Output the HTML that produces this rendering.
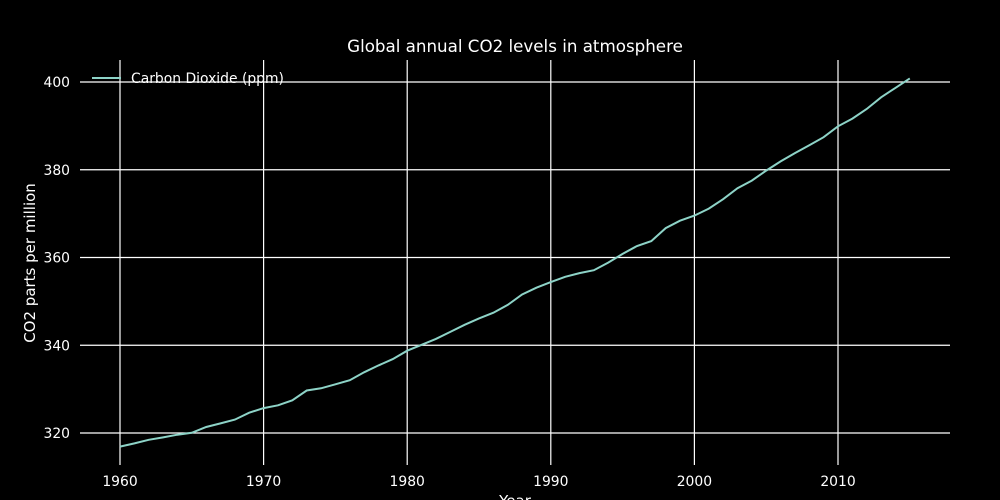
<!DOCTYPE html>
<html><head><meta charset="utf-8"><style>
body{margin:0;background:#000;}
svg{display:block;font-family:"DejaVu Sans","Liberation Sans",sans-serif;}
</style></head><body>
<svg id="c" width="1000" height="500">
<rect width="1000" height="500" fill="#000"/>
<g id="grid"></g><g id="ticks"></g>
<text x="515" y="52" fill="#fff" font-size="16.7" text-anchor="middle">Global annual CO2 levels in atmosphere</text>
<text transform="translate(35,263) rotate(-90)" fill="#fff" font-size="15" text-anchor="middle">CO2 parts per million</text>
<text x="515" y="506" fill="#fff" font-size="15" text-anchor="middle">Year</text>
<path id="line" fill="none" stroke="#8dd3c7" stroke-width="2"/>
<g>
<line x1="92" y1="78" x2="121" y2="78" stroke="#8dd3c7" stroke-width="2"/>
<text x="131" y="83" fill="#fff" font-size="13.9">Carbon Dioxide (ppm)</text>
</g>
</svg>
<script>
const years=[1960,1961,1962,1963,1964,1965,1966,1967,1968,1969,1970,1971,1972,1973,1974,1975,1976,1977,1978,1979,1980,1981,1982,1983,1984,1985,1986,1987,1988,1989,1990,1991,1992,1993,1994,1995,1996,1997,1998,1999,2000,2001,2002,2003,2004,2005,2006,2007,2008,2009,2010,2011,2012,2013,2014,2015];
const co2=[316.91,317.64,318.45,318.99,319.62,320.04,321.37,322.18,323.05,324.62,325.68,326.32,327.45,329.68,330.18,331.11,332.04,333.83,335.40,336.84,338.75,340.11,341.45,343.05,344.65,346.12,347.42,349.19,351.57,353.12,354.39,355.61,356.45,357.10,358.83,360.82,362.61,363.73,366.70,368.38,369.55,371.14,373.28,375.80,377.52,379.80,381.90,383.79,385.60,387.43,389.90,391.65,393.85,396.52,398.65,400.83];
const xTicks=[1960,1970,1980,1990,2000,2010];
const yTicks=[320,340,360,380,400];
const X=v=>120+(v-1960)*14.36;
const Y=v=>433-(v-320)*4.3875;
const NS="http://www.w3.org/2000/svg";
const grid=document.getElementById('grid'),ticks=document.getElementById('ticks');
xTicks.forEach(t=>{
 const l=document.createElementNS(NS,'line');
 l.setAttribute('x1',X(t));l.setAttribute('x2',X(t));l.setAttribute('y1',60);l.setAttribute('y2',465);
 l.setAttribute('stroke','#fff');l.setAttribute('stroke-width','1.2');
 
 
 grid.appendChild(l);
 const s=document.createElementNS(NS,'text');
 s.setAttribute('x',X(t));s.setAttribute('y',486);s.setAttribute('fill','#fff');s.setAttribute('font-size','13.9');s.setAttribute('text-anchor','middle');
 s.textContent=t;
 
 
 ticks.appendChild(s);
});
yTicks.forEach(t=>{
 const l=document.createElementNS(NS,'line');
 l.setAttribute('x1',80);l.setAttribute('x2',950);l.setAttribute('y1',Y(t));l.setAttribute('y2',Y(t));
 l.setAttribute('stroke','#fff');l.setAttribute('stroke-width','1.2');
 
 
 grid.appendChild(l);
 const s=document.createElementNS(NS,'text');
 s.setAttribute('x',70);s.setAttribute('y',Y(t)+5);s.setAttribute('fill','#fff');s.setAttribute('font-size','13.9');s.setAttribute('text-anchor','end');
 s.textContent=t;
 
 
 ticks.appendChild(s);
});
document.getElementById('line').setAttribute('d',years.map((y,i)=>(i?'L':'M')+X(y).toFixed(1)+','+Y(co2[i]).toFixed(1)).join(''));
</script>
</body></html>
